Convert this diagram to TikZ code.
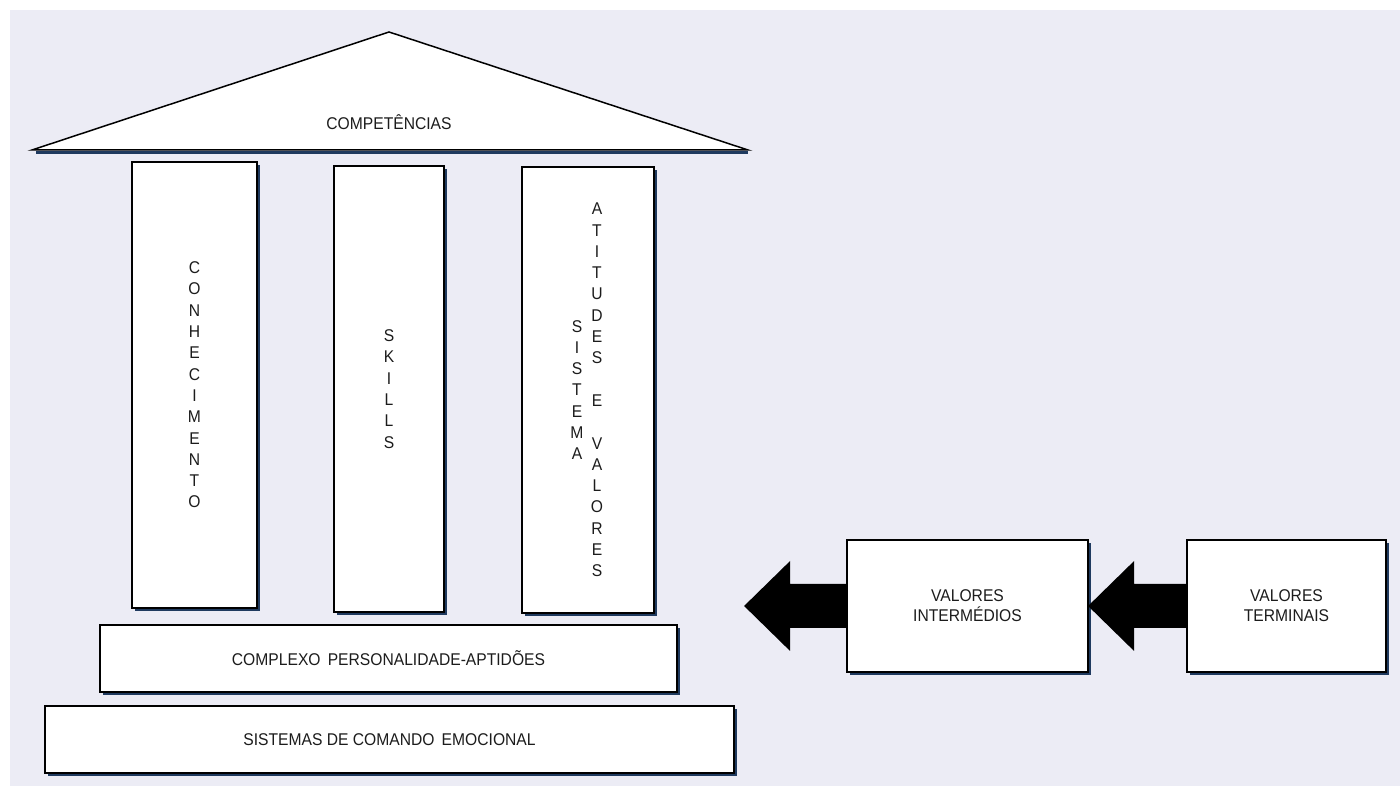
\documentclass[tikz,border=0pt]{standalone}
\usepackage{fontspec}
\setmainfont{Liberation Sans}[FakeStretch=0.92]
\usepackage{tikz}
\usetikzlibrary{positioning,calc,shadows}
\definecolor{bgpanel}{RGB}{236,236,245}
\definecolor{shadownavy}{RGB}{31,58,95}
\definecolor{inkgray}{RGB}{28,28,28}

\tikzset{
  block/.style={draw=black,line width=1.8pt,fill=white,inner sep=0pt,
    drop shadow={shadow xshift=3pt,shadow yshift=-3pt,fill=shadownavy,opacity=1},
    font=\fontsize{17}{20}\selectfont,text=inkgray,align=center},
  letters/.style={font=\fontsize{17}{21.3}\selectfont,text=inkgray,
    align=center,inner sep=0pt}
}

\begin{document}
\begin{tikzpicture}[x=1pt,y=1pt]
        \fill[white] (0,0) rectangle (1400,786);
        \fill[bgpanel] (10,0) rectangle (1400,776);
        \useasboundingbox (0,0) rectangle (1400,786);

        % roof
        \coordinate (roofL) at (32,636);
        \coordinate (roofT) at (389,754);
        \coordinate (roofR) at (748,636);
        \draw[shadownavy,line width=3.4pt] ($(roofL)+(4,-2.4)$) -- ($(roofR)+(0,-2.4)$);
        \filldraw[fill=white,draw=black,line width=1.5pt] (roofL) -- (roofT) -- (roofR) -- cycle;
        \node[letters] (comp) at (389,664) {COMPETÊNCIAS};

        \begin{scope}[every node/.style={block}]
            \node[minimum width=125,minimum height=446] (conh) at (194.5,401) {};
            \node[minimum width=110,minimum height=446] (skills) at (389,397) {};
            \node[minimum width=132,minimum height=446] (atit) at (588,396) {};
            \node[minimum width=577,minimum height=67] (compl) at (388.5,127.5)
                {COMPLEXO\ \,PERSONALIDADE-APTIDÕES};
            \node[minimum width=689,minimum height=67] (siscom) at (389.5,46.5)
                {SISTEMAS DE COMANDO\ \,EMOCIONAL};
            \node[minimum width=241,minimum height=132] (inter) at (967.5,180)
                {VALORES\\INTERMÉDIOS};
            \node[minimum width=199,minimum height=132] (term) at (1286.5,180)
                {VALORES\\TERMINAIS};
        \end{scope}

        % letters of the pillars
        \node[letters] (conhtxt) at (conh.center)
            {C\\O\\N\\H\\E\\C\\I\\M\\E\\N\\T\\O};
        \node[letters] (skillstxt) at (skills.center) {S\\K\\I\\L\\L\\S};
        \node[letters] (sistxt) at ($(atit.center)+(-11,0)$) {S\\I\\S\\T\\E\\M\\A};
        \node[letters] (atittxt) at ($(atit.center)+(9,0)$)
            {A\\T\\I\\T\\U\\D\\E\\S\\\mbox{}\\E\\\mbox{}\\V\\A\\L\\O\\R\\E\\S};

        % block arrows
        \fill[black] ($(inter.west)+(0,22)$) -- ($(inter.west)+(-56,22)$)
            -- ($(inter.west)+(-56,45)$) -- ($(inter.west)+(-102,0)$)
            -- ($(inter.west)+(-56,-45)$) -- ($(inter.west)+(-56,-22)$)
            -- ($(inter.west)+(0,-22)$) -- cycle;
        \fill[black] ($(term.west)+(0,22)$) -- ($(term.west)+(-52,22)$)
            -- ($(term.west)+(-52,45)$) -- ($(term.west)+(-98,0)$)
            -- ($(term.west)+(-52,-45)$) -- ($(term.west)+(-52,-22)$)
            -- ($(term.west)+(0,-22)$) -- cycle;
    \end{tikzpicture}
\end{document}
